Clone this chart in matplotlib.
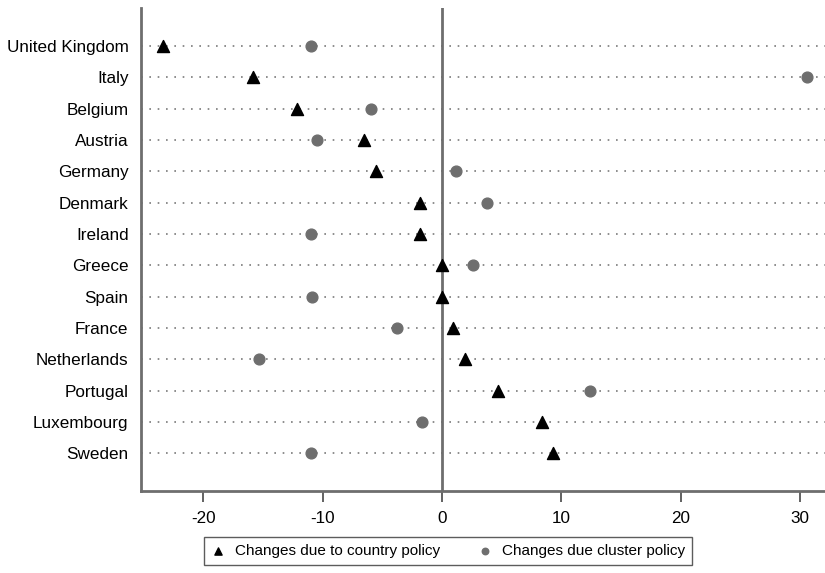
import matplotlib.pyplot as plt
import numpy as np

plt.rcParams['font.family'] = ['Liberation Sans', 'DejaVu Sans']

countries = ['United Kingdom', 'Italy', 'Belgium', 'Austria', 'Germany', 'Denmark',
             'Ireland', 'Greece', 'Spain', 'France', 'Netherlands', 'Portugal',
             'Luxembourg', 'Sweden']
country_policy = [-23.4, -15.8, -12.1, -6.5, -5.5, -1.8, -1.8, 0.0, 0.0, 0.95,
                  1.9, 4.7, 8.4, 9.3]
cluster_policy = [-11.0, 30.6, -5.9, -10.5, 1.2, 3.8, -11.0, 2.6, -10.9, -3.8,
                  -15.3, 12.4, -1.7, -11.0]
xticks = [-20, -10, 0, 10, 20, 30]

fig = plt.figure(figsize=(8.25, 5.73), dpi=100)
ax = fig.add_axes([0.171, 0.143, 0.829, 0.843])

y = np.arange(len(countries))
xmin, xmax = -25.2, 32.1

# dotted guide lines per country
ax.hlines(y, xmin, xmax, colors='#7a7a7a', linestyles=(0, (1, 4)), linewidth=1.2, zorder=1)
ax.axvline(0, color='#6e6e6e', linewidth=2, zorder=2)

ax.scatter(country_policy, y, marker='^', s=75, color='black', zorder=4,
           label='Changes due to country policy')
ax.scatter(cluster_policy, y, marker='o', s=60, color='#6e6e6e', zorder=3,
           label='Changes due cluster policy')

ax.set_xlim(xmin, xmax)
ax.set_ylim(len(countries) - 1 + 1.21, -1.21)
ax.set_yticks(y)
ax.set_yticklabels(countries, fontsize=12.3)
ax.set_xticks(xticks)
ax.set_xticklabels([str(t) for t in xticks], fontsize=12.3)
ax.tick_params(axis='y', length=0, pad=9)
ax.tick_params(axis='x', length=8, width=1.3, color='#555555', pad=6)

for s in ['top', 'right']:
    ax.spines[s].set_visible(False)
for s in ['left', 'bottom']:
    ax.spines[s].set_color('#6e6e6e')
    ax.spines[s].set_linewidth(2)

leg = fig.legend(loc='upper left', bbox_to_anchor=(0.247, 0.0, 0.592, 0.0628),
                 mode='expand', ncol=2, fontsize=11, frameon=True, fancybox=False,
                 markerscale=0.6, handlelength=1.0, handletextpad=0.6, borderaxespad=0,
                 columnspacing=1.5, borderpad=0.45)
leg.get_frame().set_edgecolor('#333333')
leg.get_frame().set_linewidth(1)

fig.savefig('out.png', dpi=100)
